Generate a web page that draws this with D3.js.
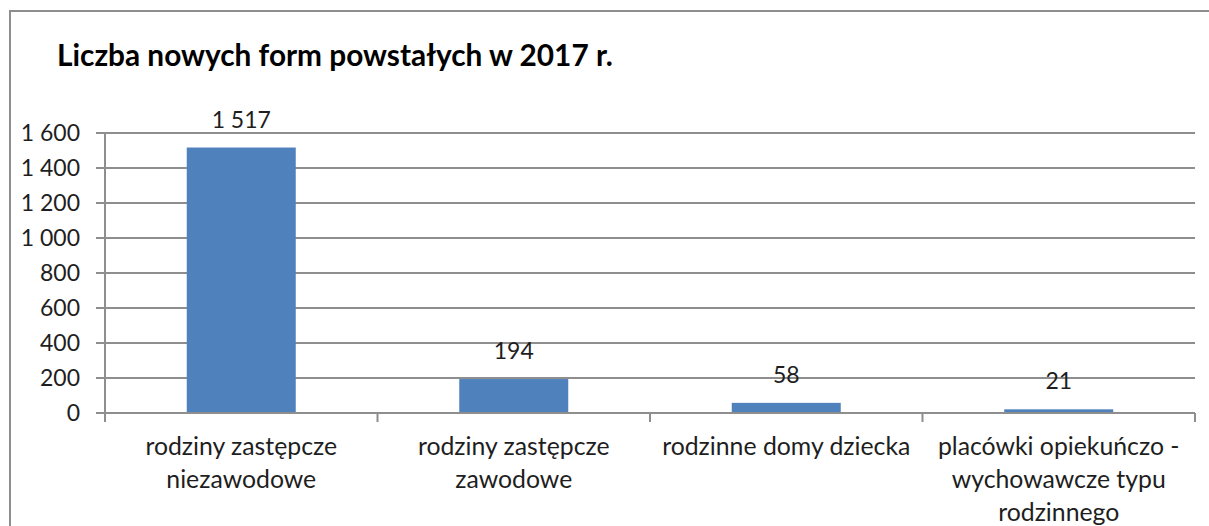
<!DOCTYPE html>
<html><head><meta charset="utf-8">
<script src="https://cdn.jsdelivr.net/npm/d3@7"></script>
<style>body{margin:0;background:#fff}svg{display:block}text{font-family:Lato,"Open Sans",sans-serif}</style>
</head><body>
<svg id="c" width="1209" height="526"></svg>
<script>
const title = "Liczba nowych form powstałych w 2017 r.";
const categories = [
  ["rodziny zastępcze", "niezawodowe"],
  ["rodziny zastępcze", "zawodowe"],
  ["rodzinne domy dziecka"],
  ["placówki opiekuńczo -", "wychowawcze typu", "rodzinnego"]
];
const values = [1517, 194, 58, 21];
const yTicks = [0, 200, 400, 600, 800, 1000, 1200, 1400, 1600];

const svg = d3.select("#c");
const fmt = v => d3.format(",")(v).replace(/,/g, "\u00a0");
const gridColor = "#8e8e8e";
const textColor = "#1e1e1e";

// outer border
svg.append("path").attr("d", "M10,540 V11 H1220").attr("fill", "none")
  .attr("stroke", gridColor).attr("stroke-width", 2);

svg.append("text").attr("x", 57).attr("y", 66).attr("font-size", 29.8).attr("font-weight", "bold")
  .attr("fill", "#000").text(title);

const x = d3.scaleBand().domain(d3.range(values.length)).range([105, 1195]).paddingInner(0).paddingOuter(0);
const y = d3.scaleLinear().domain([0, 1600]).range([413, 133]);

// grid
svg.append("g").selectAll("line").data(yTicks).join("line")
  .attr("x1", 96).attr("x2", 1195).attr("y1", d => y(d)).attr("y2", d => y(d))
  .attr("stroke", gridColor).attr("stroke-width", 2);

// y labels
svg.append("g").selectAll("text").data(yTicks).join("text")
  .attr("x", 80).attr("y", d => y(d)).attr("dy", "0.35em").attr("text-anchor", "end")
  .attr("font-size", 23).attr("fill", textColor).text(fmt);

// y axis line
svg.append("line").attr("x1", 105).attr("x2", 105).attr("y1", 133).attr("y2", 413)
  .attr("stroke", gridColor).attr("stroke-width", 2);

// bars
const bw = x.bandwidth() * 0.4;
svg.append("g").selectAll("rect").data(values).join("rect")
  .attr("x", (d, i) => x(i) + (x.bandwidth() - bw) / 2).attr("width", bw)
  .attr("y", d => y(d)).attr("height", d => y(0) - y(d)).attr("fill", "#4f81bd");

// x axis
svg.append("line").attr("x1", 105).attr("x2", 1195).attr("y1", 413).attr("y2", 413)
  .attr("stroke", gridColor).attr("stroke-width", 2);
const xt = d3.range(values.length + 1).map(i => i < values.length ? x(i) : x(values.length - 1) + x.bandwidth());
svg.append("g").selectAll("line").data(xt).join("line")
  .attr("x1", d => d).attr("x2", d => d).attr("y1", 413).attr("y2", 422)
  .attr("stroke", gridColor).attr("stroke-width", 2);

// value labels
svg.append("g").selectAll("text").data(values).join("text")
  .attr("x", (d, i) => x(i) + x.bandwidth() / 2).attr("y", d => y(d) - 28).attr("dy", "0.35em")
  .attr("text-anchor", "middle").attr("font-size", 23).attr("fill", textColor).text(fmt);

// category labels
const cl = svg.append("g").selectAll("text").data(categories).join("text")
  .attr("x", (d, i) => x(i) + x.bandwidth() / 2).attr("text-anchor", "middle")
  .attr("font-size", 24.8).attr("fill", textColor);
cl.each(function(lines, i) {
  d3.select(this).selectAll("tspan").data(lines).join("tspan")
    .attr("x", x(i) + x.bandwidth() / 2).attr("y", (l, j) => 455 + j * 33).text(l => l);
});
</script>
</body></html>
